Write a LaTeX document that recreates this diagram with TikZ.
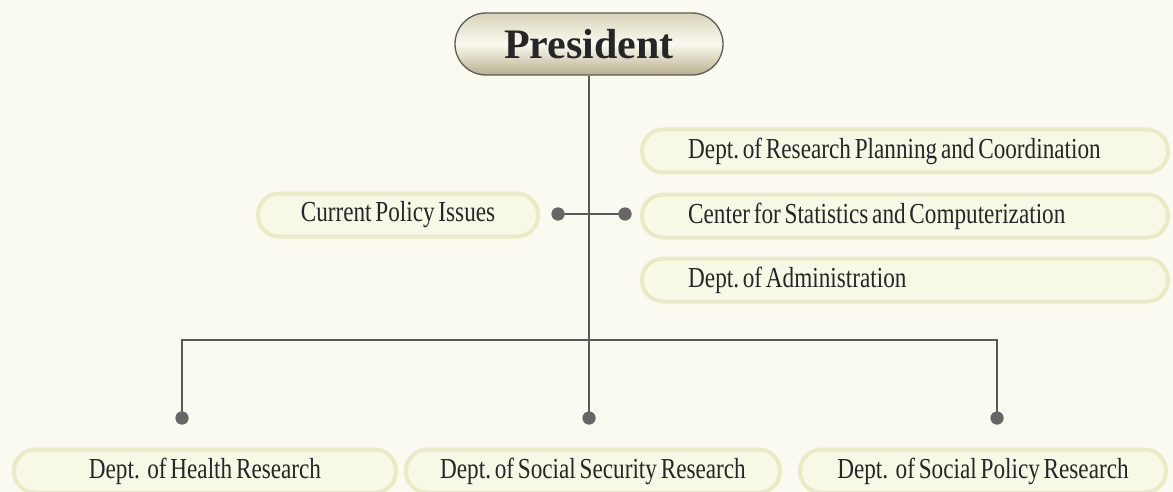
\documentclass[tikz,border=0pt]{standalone}
\usepackage{fontspec}
\setmainfont{Liberation Serif}
\newfontfamily\condfont[FakeStretch=0.8,WordSpace={0.65,0.5,0.5}]{Liberation Serif}
\definecolor{bg}{HTML}{FBFAF0}
\definecolor{boxin}{HTML}{F8F8E6}
\definecolor{boxout}{HTML}{EAEAC6}
\definecolor{linec}{HTML}{5A5A5A}
\definecolor{dotc}{HTML}{666666}
\definecolor{txt}{HTML}{262626}
\definecolor{prestop}{HTML}{D8D3BA}
\definecolor{presmid}{HTML}{FBFAF0}
\definecolor{presbot}{HTML}{B7AF8D}
\tikzset{
  unitfont/.style={text=txt, font=\condfont\frenchspacing\fontsize{29}{32}\selectfont},
  unitbox/.style={draw=boxout, line width=4pt, fill=boxin, rounded corners=21pt,
    minimum height=43pt, unitfont, inner sep=0pt},
  lefttext/.style={unitfont, anchor=west, inner sep=0pt},
  presbox/.style={draw=linec, line width=1.3pt, rounded corners=31pt, minimum width=268pt,
    minimum height=62pt, top color=prestop, bottom color=presbot, middle color=presmid,
    text=txt, font=\bfseries\fontsize{42}{44}\selectfont},
  conn/.style={draw=linec, line width=1.4pt},
  dot/.style={circle, fill=dotc, inner sep=0pt, minimum size=13pt},
}
\begin{document}
\begin{tikzpicture}[x=1pt,y=-1pt]
\fill[bg] (0,0) rectangle (1173,492);
\useasboundingbox (0,0) rectangle (1173,492);

% nodes
\node[presbox] (pres) at (589,44) {President};
\node[unitbox, minimum width=280pt] (cpi) at (398,215) {Current Policy Issues};
\node[unitbox, minimum width=526pt] (rpc) at (905,151) {};
\node[unitbox, minimum width=526pt] (csc) at (905,216) {};
\node[unitbox, minimum width=526pt] (adm) at (905,280) {};
\node[lefttext] (rpct) at ([xshift=48pt]rpc.west) {Dept. of Research Planning and Coordination};
\node[lefttext] (csct) at ([xshift=48pt]csc.west) {Center for Statistics and Computerization};
\node[lefttext] (admt) at ([xshift=48pt]adm.west) {Dept. of Administration};
\node[unitbox, minimum width=382pt] (hr) at (205,471) {Dept.\ \ of Health Research};
\node[unitbox, minimum width=374pt] (ssr) at (593,471) {Dept. of Social Security Research};
\node[unitbox, minimum width=366pt] (spr) at (983,471) {Dept.\ \ of Social Policy Research};

% dots
\node[dot] (dl) at (558,214) {};
\node[dot] (dr) at (625,214) {};
\node[dot] (d1) at (182,418) {};
\node[dot] (d2) at (589,418) {};
\node[dot] (d3) at (997,418) {};
\coordinate (bl) at (182,340);
\coordinate (br) at (997,340);

% connectors
\draw[conn] (pres.south) -- (d2.center);
\draw[conn] (dl.center) -- (dr.center);
\draw[conn] (d1.center) -- (bl) -- (br) -- (d3.center);
\node[dot] at (d1) {};
\node[dot] at (d2) {};
\node[dot] at (d3) {};
\node[dot] at (dl) {};
\node[dot] at (dr) {};
\end{tikzpicture}
\end{document}
